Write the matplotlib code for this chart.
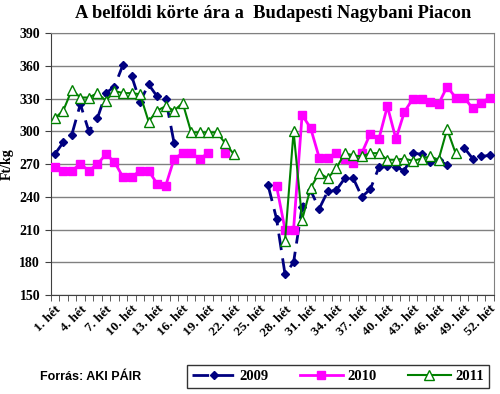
import numpy as np
import matplotlib
matplotlib.use('Agg')
import matplotlib.pyplot as plt

# ==================== adatok ====================
weeks = np.arange(1, 53)
tick_weeks = list(range(1, 53, 3))
tick_labels = [f'{w}. hét' for w in tick_weeks]

nan = np.nan
ar_2009 = [279, 290, 297, 325, 300, 312, 335, 341, 361, 351,
           327, 343, 332, 330, 289, nan, nan, nan, nan, nan,
           nan, nan, nan, nan, nan, 251, 220, 169, 180, 231,
           246, 229, 245, 246, 257, 257, 240, 247, 267, 268,
           267, 264, 280, 279, 272, 274, 269, nan, 285, 275,
           277, 278]
ar_2010 = [267, 264, 264, 270, 264, 270, 279, 272, 258, 258,
           264, 264, 252, 250, 275, 280, 280, 275, 280, nan,
           280, nan, nan, nan, nan, nan, 250, 210, 210, 315,
           303, 276, 276, 280, 275, 271, 280, 298, 293, 323,
           293, 318, 330, 330, 327, 325, 341, 331, 331, 321,
           326, 331]
ar_2011 = [312, 319, 338, 331, 331, 335, 328, 337, 335, 335,
           334, 309, 319, 323, 319, 326, 299, 299, 299, 299,
           289, 279, nan, nan, nan, nan, nan, 200, 300, 219,
           248, 262, 257, 266, 280, 278, 277, 280, 280, 274,
           274, 275, 273, 275, 277, 274, 302, 280, nan, nan,
           nan, nan]
# ================================================

serif = ['Liberation Serif', 'DejaVu Serif']

fig = plt.figure(figsize=(5, 3.94), dpi=100)
ax = fig.add_axes([0.101, 0.251, 0.887, 0.665])

x = weeks - 1
ax.plot(x, ar_2009, color='#000080', lw=2, dashes=(6, 3), marker='D', ms=4.5,
        label='2009', zorder=3)
ax.plot(x, ar_2010, color='#FF00FF', lw=2, marker='s', ms=5.5,
        label='2010', zorder=4)
ax.plot(x, ar_2011, color='#008000', lw=1.5, marker='^', ms=7, mfc='white',
        mec='#008000', mew=1, label='2011', zorder=5)

ax.set_xlim(-0.5, 51.5)
ax.set_ylim(150, 390)
ax.set_yticks(range(150, 391, 30))
ax.yaxis.grid(True, color='#808080', lw=1)
ax.set_axisbelow(True)

ax.set_xticks([w - 1 for w in tick_weeks])
ax.set_xticklabels(tick_labels, rotation=45, ha='right', va='top',
                   rotation_mode='anchor', family=serif, fontweight='bold', fontsize=9.5)
ax.set_xticks(np.arange(-0.5, 52, 1), minor=True)
ax.tick_params(axis='x', which='major', length=0, pad=6)
ax.tick_params(axis='x', which='minor', length=4, direction='out', color='#404040')
ax.tick_params(axis='y', length=4, direction='out', color='#404040')
for lab in ax.get_yticklabels():
    lab.set_family(serif)
    lab.set_fontweight('bold')
    lab.set_fontsize(10)

for s in ['top', 'right']:
    ax.spines[s].set_color('#808080')
for s in ['left', 'bottom']:
    ax.spines[s].set_color('#404040')

ax.set_ylabel('Ft/kg', family=serif, fontweight='bold', fontsize=10, labelpad=4)

fig.text(0.546, 0.965, 'A belföldi körte ára a  Budapesti Nagybani Piacon',
         ha='center', va='center', family=serif, fontweight='bold', fontsize=13.3)

fig.text(0.08, 0.043, 'Forrás: AKI PÁIR', ha='left', va='center',
         family=['Liberation Sans', 'DejaVu Sans'], fontweight='bold', fontsize=9)

leg = fig.legend(loc='center', bbox_to_anchor=(0.676, 0.045), ncol=3,
                 prop={'family': serif, 'weight': 'bold', 'size': 10.5},
                 frameon=True, fancybox=False, edgecolor='black',
                 handlelength=3.0, columnspacing=2.1, handletextpad=0.3,
                 borderpad=0.35, borderaxespad=0)
leg.get_frame().set_linewidth(1)

fig.savefig('out.png', dpi=100)
